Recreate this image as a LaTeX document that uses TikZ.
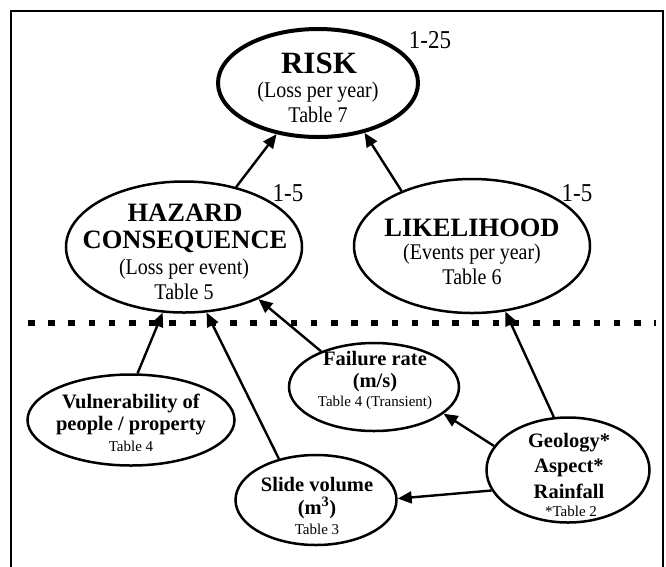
\documentclass[tikz,border=0pt]{standalone}
\usepackage{fontspec}
\usepackage{graphicx}
\setmainfont{Liberation Serif}
\usetikzlibrary{shapes.geometric,arrows.meta}
\newcommand\tallt[1]{\scalebox{1}[1.12]{#1}}
\begin{document}
\begin{tikzpicture}[x=1pt,y=-1pt,
  ell/.style={draw,ellipse,line width=2.5pt,inner sep=0pt},
  arr/.style={line width=2.4pt,-{Triangle[length=14pt,width=12pt]}},
  txt/.style={inner sep=0pt,align=center},
  big/.style={font=\fontsize{31}{31}\selectfont\bfseries},
  head/.style={font=\fontsize{26.5}{26.5}\selectfont\bfseries},
  sub/.style={font=\fontsize{20}{20}\selectfont},
  lab/.style={font=\fontsize{20.5}{20.5}\selectfont\bfseries},
  small/.style={font=\fontsize{15}{15}\selectfont},
  num/.style={font=\fontsize{23}{23}\selectfont}]
\useasboundingbox (0,0) rectangle (666,566);
\coordinate (f1) at (11,590);
\coordinate (f2) at (11,11);
\coordinate (f3) at (663,11);
\coordinate (f4) at (663,590);
\draw[line width=2.5pt] (f1) -- (f2) -- (f3) -- (f4);
\coordinate (d1) at (28,323);
\coordinate (d2) at (656,323);
\draw[line width=5.5pt, dash pattern=on 6.5pt off 13.7pt] (d1) -- (d2);

\node[ell, line width=4pt, minimum width=200pt, minimum height=108pt] (risk) at (318,83) {};
\node[ell, minimum width=236pt, minimum height=131pt] (hazard) at (184,247) {};
\node[ell, minimum width=236pt, minimum height=134pt] (like) at (472,246) {};
\node[ell, minimum width=207pt, minimum height=91pt] (vuln) at (131,420) {};
\node[ell, minimum width=170pt, minimum height=88pt] (fail) at (374,387) {};
\node[ell, minimum width=161pt, minimum height=90pt] (slide) at (316,500) {};
\node[ell, minimum width=163pt, minimum height=105pt] (geo) at (568,470) {};

\node[txt,big] (riskA) at (319,63) {RISK};
\node[txt,sub] (riskB) at (318,92) {\tallt{(Loss per year)}};
\node[txt,sub] (riskC) at (318,115) {\tallt{Table 7}};
\node[txt,num] (riskN) at (430,40) {\tallt{1-25}};

\node[txt,head] (hazA) at (185,213) {HAZARD};
\node[txt,head] (hazB) at (185,242) {CONSEQUENCE};
\node[txt,sub] (hazC) at (184,269) {\tallt{(Loss per event)}};
\node[txt,sub] (hazD) at (184,292) {\tallt{Table 5}};
\node[txt,num] (hazN) at (288,193) {\tallt{1-5}};

\node[txt,head] (likeA) at (472,228) {LIKELIHOOD};
\node[txt,sub] (likeB) at (472,254) {\tallt{(Events per year)}};
\node[txt,sub] (likeC) at (472,277) {\tallt{Table 6}};
\node[txt,num] (likeN) at (577,193) {\tallt{1-5}};

\node[txt,lab] (vulA) at (131,403) {Vulnerability of};
\node[txt,lab] (vulB) at (131,426) {people / property};
\node[txt,small] (vulC) at (131,446) {Table 4};

\node[txt,lab] (failA) at (375,359) {Failure rate};
\node[txt,lab] (failB) at (375,383) {(m/s)};
\node[txt,small] (failC) at (375,403) {Table 4 (Transient)};

\node[txt,lab] (slA) at (317,485) {Slide volume};
\node[txt,lab] (slB) at (317,508) {(m\textsuperscript{3})};
\node[txt,small] (slC) at (317,529) {Table 3};

\node[txt,lab] (geoA) at (569,443) {Geology*};
\node[txt,lab] (geoB) at (569,468) {Aspect*};
\node[txt,lab] (geoC) at (569,491) {Rainfall};
\node[txt,small] (geoD) at (571,511) {*Table 2};

\draw[arr] (hazard.49) -- (risk.231);
\draw[arr] (like.142.5) -- (risk.313);
\draw[arr] (vuln.82.7) -- (hazard.252.4);
\draw[arr] (slide.132.8) -- (hazard.289.4);
\draw[arr] (fail.146.5) -- (hazard.325.5);
\draw[arr] (geo.162.5) -- (fail.339);
\draw[arr] (geo.195.2) -- (slide.1.3);
\draw[arr] (geo.105) -- (like.297.6);
\end{tikzpicture}
\end{document}
